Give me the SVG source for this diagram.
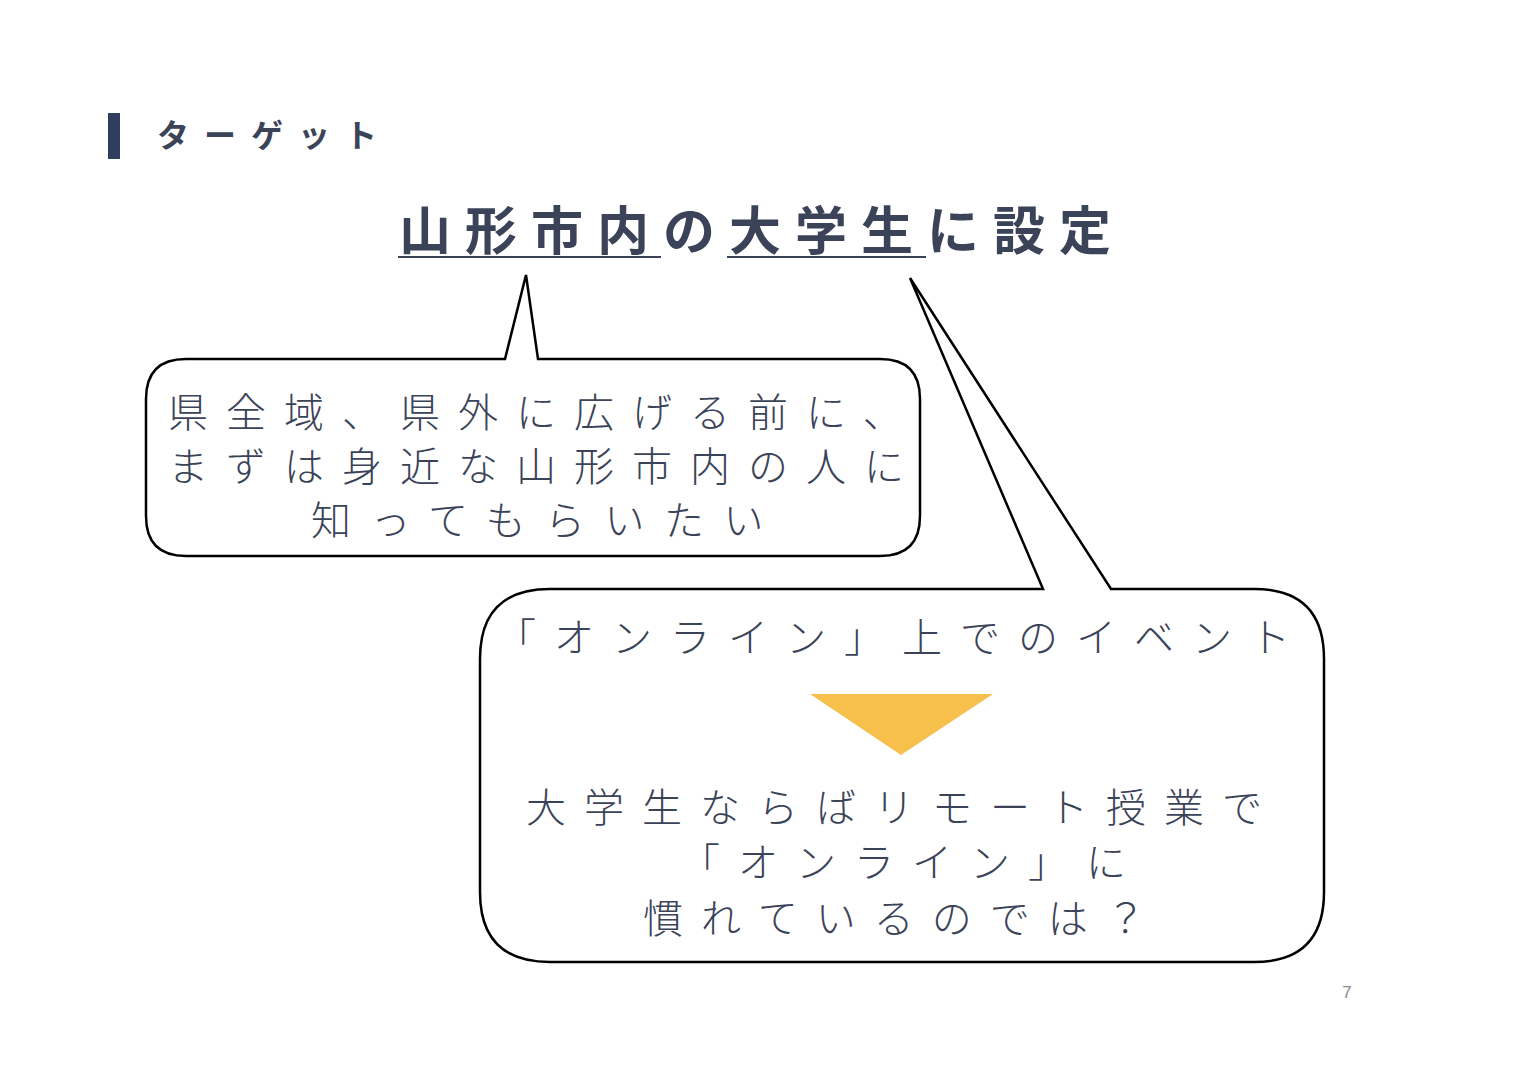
<svg xmlns="http://www.w3.org/2000/svg" width="1519" height="1075" viewBox="0 0 1519 1075">
<style>
.jp{font-family:"Noto Sans CJK JP","Noto Sans CJK SC",sans-serif;fill:#3b4358}
.hd{font-size:32px;font-weight:700;letter-spacing:15px}
.tt{font-size:52px;font-weight:700;letter-spacing:14px}
.bt{font-size:40px;font-weight:300;letter-spacing:18px}
.bubble{fill:#ffffff;stroke:#000000;stroke-width:2.5;stroke-linejoin:miter}
</style>
<rect width="1519" height="1075" fill="#ffffff"/>
<g id="header">
<rect x="108" y="113" width="12" height="46" fill="#2f3e5c"/>
<text class="jp hd" x="157" y="147">ターゲット</text>
</g>
<g id="title">
<text class="jp tt" x="399" y="250">山形市内の大学生に設定</text>
<line x1="398" y1="257" x2="661" y2="257" stroke="#3b4358" stroke-width="2"/>
<line x1="727" y1="257" x2="926" y2="257" stroke="#3b4358" stroke-width="2"/>
</g>
<g id="connectors"></g>
<g id="bubble1">
<path class="bubble" d="M186,359 L505,359 L526,275 L538,359 L880,359 Q920,359 920,399 L920,516 Q920,556 880,556 L186,556 Q146,556 146,516 L146,399 Q146,359 186,359 Z"/>
<text class="jp bt" x="168" y="427">県全域、県外に広げる前に、</text>
<text class="jp bt" x="168" y="481">まずは身近な山形市内の人に</text>
<text class="jp bt" x="311" y="535" style="letter-spacing:19.5px">知ってもらいたい</text>
</g>
<g id="bubble2">
<path class="bubble" d="M550,589 L1043,589 L910,278 L1111,589 L1254,589 Q1324,589 1324,659 L1324,892 Q1324,962 1254,962 L550,962 Q480,962 480,892 L480,659 Q480,589 550,589 Z"/>
<text class="jp bt" x="496" y="652">「オンライン」上でのイベント</text>
<polygon points="810,694 993,694 901,755" fill="#f7c04d"/>
<text class="jp bt" x="526" y="822">大学生ならばリモート授業で</text>
<text class="jp bt" x="680" y="877">「オンライン」に</text>
<text class="jp bt" x="643" y="933">慣れているのでは？</text>
</g>
<text x="1347" y="998" font-family="Liberation Sans, sans-serif" font-size="17" fill="#8a8a8a" text-anchor="middle">7</text>
</svg>
